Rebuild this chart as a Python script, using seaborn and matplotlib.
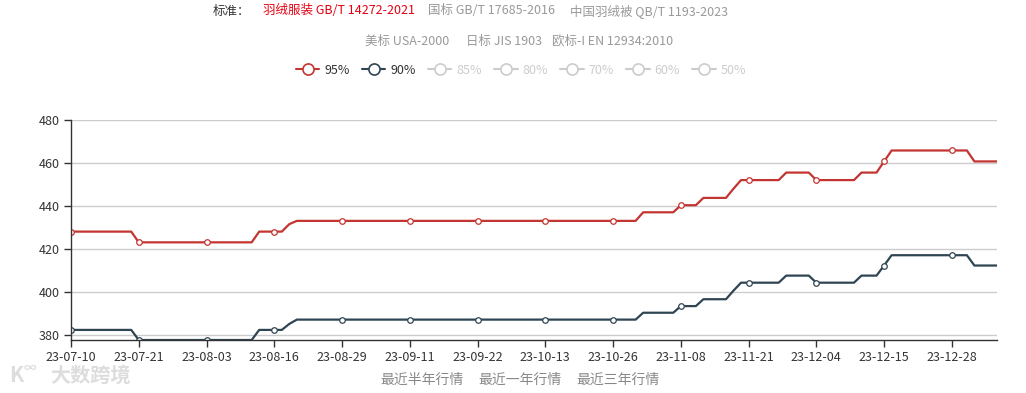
import pandas as pd
import numpy as np
import matplotlib
matplotlib.use('Agg')
import matplotlib.pyplot as plt
from matplotlib.lines import Line2D
import seaborn as sns

# category axis: trading days (weekdays minus CN holidays)
holidays = ['2023-09-29', '2023-10-02', '2023-10-03', '2023-10-04',
            '2023-10-05', '2023-10-06', '2024-01-01']
dates = pd.bdate_range('2023-07-10', '2024-01-08', freq='C', holidays=holidays)

# price series (runs of equal daily values)
p95 = ([428] * 9 + [423] * 16 + [428] * 4 + [431.5] + [433] * 46 + [437] * 5
       + [440.3] * 3 + [443.7] * 4 + [448] + [452] * 6 + [455.5] * 4 + [452] * 6
       + [455.5] * 3 + [460.7] + [465.8] * 11 + [460.7] * 4)
p90 = ([382.2] * 9 + [377.5] * 16 + [382.2] * 4 + [385] + [387] * 46 + [390.2] * 5
       + [393.3] * 3 + [396.5] * 4 + [400.5] + [404.2] * 6 + [407.5] * 4 + [404.2] * 6
       + [407.5] * 3 + [412.2] + [417] * 11 + [412.2] * 4)

grades = ['95%', '90%', '85%', '80%', '70%', '60%', '50%']
colors = {'95%': '#c23531', '90%': '#2f4554'}
standards_row1 = ['羽绒服装 GB/T 14272-2021', '国标 GB/T 17685-2016', '中国羽绒被 QB/T 1193-2023']
standards_row2 = ['美标 USA-2000', '日标 JIS 1903', '欧标-I EN 12934:2010']
periods = ['最近半年行情', '最近一年行情', '最近三年行情']
yticks = [380, 400, 420, 440, 460, 480]

n = len(dates)
df = pd.DataFrame({
    'idx': np.tile(np.arange(n), 2),
    'price': p95 + p90,
    'grade': ['95%'] * n + ['90%'] * n,
})

sns.set_theme(style='white')
plt.rcParams['font.family'] = ['Noto Sans CJK SC', 'DejaVu Sans']

W, H = 1026, 393
fig = plt.figure(figsize=(W / 100, H / 100), dpi=100)
ax = fig.add_axes([71 / W, 1 - 340 / H, (997 - 71) / W, (340 - 120) / H])

sns.lineplot(data=df, x='idx', y='price', hue='grade', palette=colors,
             linewidth=1.6, ax=ax, legend=False)
for line in ax.lines:
    c = line.get_color()
    line.set_marker('o')
    line.set_markevery(9)
    line.set_markersize(4)
    line.set_markerfacecolor('white')
    line.set_markeredgecolor(c)
    line.set_markeredgewidth(0.9)

ax.set_xlim(0, n - 1)
ax.set_ylim(377.5, 480)
ticks = np.arange(0, n, 9)
ax.set_xticks(ticks)
ax.set_xticklabels([dates[i].strftime('%y-%m-%d') for i in ticks])
ax.set_yticks(yticks)
ax.set_xlabel('')
ax.set_ylabel('')
ax.yaxis.grid(True, color='#cccccc', linewidth=1)
ax.xaxis.grid(False)
for s in ['top', 'right']:
    ax.spines[s].set_visible(False)
for s in ['left', 'bottom']:
    ax.spines[s].set_color('#333333')
    ax.spines[s].set_linewidth(1)
ax.tick_params(axis='both', which='both', direction='out', length=5, width=1,
               color='#333333', labelcolor='#333333', labelsize=9, pad=3,
               bottom=True, left=True)

def fx(x):
    return x / W

def fy(y):
    return 1 - y / H

# header: standards selector
fig.text(fx(213), fy(11), '标准：', color='#333333', fontsize=9, va='center')
xs1 = [263, 428, 570]
for x, t in zip(xs1, standards_row1):
    fig.text(fx(x), fy(11), t, color='#e60012' if x == 263 else '#999999', fontsize=9, va='center')
xs2 = [365, 466, 552]
for x, t in zip(xs2, standards_row2):
    fig.text(fx(x), fy(41), t, color='#999999', fontsize=9, va='center')

# legend row
handles = [Line2D([], [], color=colors.get(g, '#cccccc'), marker='o', markersize=8,
                  markerfacecolor='white', markeredgewidth=1.2, linewidth=1.5)
           for g in grades]
leg = fig.legend(handles, grades, loc='center', bbox_to_anchor=(fx(521), fy(70)),
                 ncol=len(grades), frameon=False, fontsize=9, handlelength=1.9,
                 handletextpad=0.4, columnspacing=0.95)
for t, g in zip(leg.get_texts(), grades):
    t.set_color('#333333' if g in colors else '#cccccc')

# period switches at the bottom
xs3 = [380, 478, 576]
for x, t in zip(xs3, periods):
    fig.text(fx(x), fy(380), t, color='#888888', fontsize=10, va='center')

# watermark
fig.text(fx(9), fy(376), 'K', color='#dddddd', fontsize=15, fontweight='bold', va='center')
fig.text(fx(24), fy(368), '∞', color='#dddddd', fontsize=9, fontweight='bold', va='center')
fig.text(fx(50), fy(375), '大数跨境', color='#dddddd', fontsize=14.5, fontweight='bold', va='center')

fig.savefig('out.png', dpi=100)
